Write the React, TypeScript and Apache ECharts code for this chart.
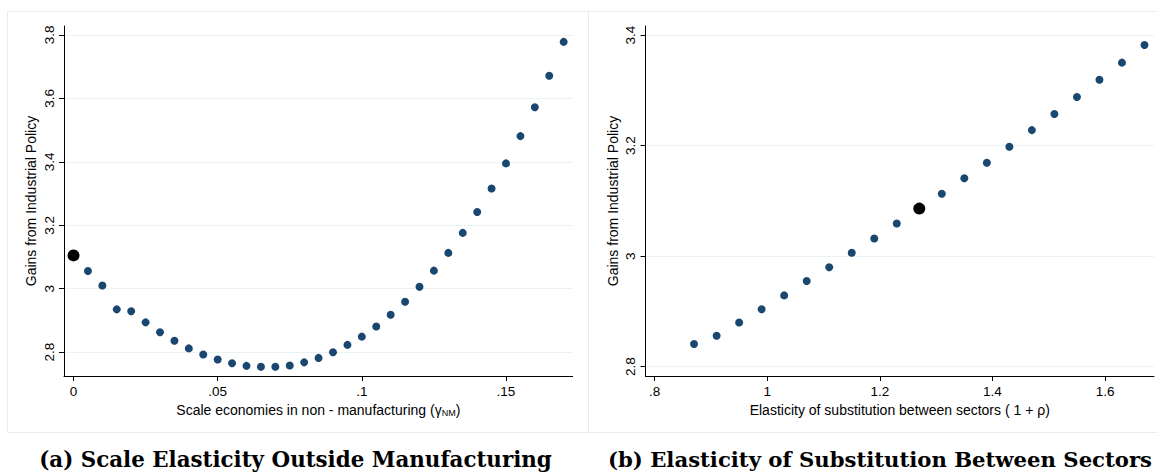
import React, { useEffect, useRef } from 'react';
import * as echarts from 'echarts';

// Panel (a): scale economies in non-manufacturing
const scaleElasticity = [
  0, 0.005, 0.01, 0.015, 0.02, 0.025, 0.03, 0.035, 0.04, 0.045, 0.05, 0.055,
  0.06, 0.065, 0.07, 0.075, 0.08, 0.085, 0.09, 0.095, 0.1, 0.105, 0.11, 0.115,
  0.12, 0.125, 0.13, 0.135, 0.14, 0.145, 0.15, 0.155, 0.16, 0.165, 0.17,
];
const gainsScale = [
  3.105, 3.056, 3.01, 2.935, 2.929, 2.894, 2.863, 2.836, 2.812, 2.793, 2.777,
  2.765, 2.757, 2.754, 2.754, 2.758, 2.768, 2.782, 2.8, 2.823, 2.849, 2.881,
  2.918, 2.959, 3.006, 3.057, 3.113, 3.176, 3.242, 3.316, 3.395, 3.481, 3.572,
  3.671, 3.778,
];
const baselineScaleIndex = 0;

// Panel (b): elasticity of substitution between sectors
const substitutionElasticity = [
  0.87, 0.91, 0.95, 0.99, 1.03, 1.07, 1.11, 1.15, 1.19, 1.23, 1.27, 1.31, 1.35,
  1.39, 1.43, 1.47, 1.51, 1.55, 1.59, 1.63, 1.67,
];
const gainsSubstitution = [
  2.841, 2.856, 2.88, 2.904, 2.929, 2.955, 2.98, 3.006, 3.032, 3.059, 3.086,
  3.113, 3.141, 3.169, 3.198, 3.228, 3.257, 3.288, 3.319, 3.35, 3.382,
];
const baselineSubstIndex = 10;

const xTicksA = [0, 0.05, 0.1, 0.15];
const yTicksA = [2.8, 3, 3.2, 3.4, 3.6, 3.8];
const xTicksB = [0.8, 1, 1.2, 1.4, 1.6];
const yTicksB = [2.8, 3, 3.2, 3.4];

const yName = 'Gains from Industrial Policy';
const xNameA = 'Scale economies in non - manufacturing ({g|γ}{sub|NM})';
const xNameB = 'Elasticity of substitution between sectors ( 1 + ρ)';
const titleA = '(a) Scale Elasticity Outside Manufacturing';
const titleB = '(b) Elasticity of Substitution Between Sectors';

const SANS = '"Liberation Sans", Arial, sans-serif';
const SERIF = '"DejaVu Serif", serif';
const NAVY = '#1a476f';
const GRIDC = '#eaf2f3';

const fmt = (v: number) => {
  const r = Math.round(v * 1000) / 1000;
  if (r === 0) return '0';
  return String(r).replace(/^0\./, '.').replace(/^-0\./, '-.');
};

function makeX(gridIndex: number, min: number, max: number, ticks: number[], name: string) {
  return {
    type: 'value',
    gridIndex,
    min,
    max,
    name,
    nameLocation: 'middle',
    nameGap: 23,
    nameTextStyle: {
      fontFamily: SANS,
      fontSize: 14,
      color: '#000',
      rich: {
        g: { fontFamily: SANS, fontSize: 14, color: '#000' },
        sub: { fontFamily: SANS, fontSize: 9, color: '#000', verticalAlign: 'bottom', padding: [6, 0, 0, 0] },
      },
    },
    axisLine: { show: true, onZero: false, lineStyle: { color: '#000', width: 1 } },
    axisTick: { show: true, length: 5, customValues: ticks, lineStyle: { color: '#000', width: 1 } },
    axisLabel: { customValues: ticks, formatter: fmt, margin: 8, fontSize: 13.5, color: '#000', fontFamily: SANS },
    splitLine: { show: false },
  };
}

function makeY(gridIndex: number, min: number, max: number, ticks: number[]) {
  return {
    type: 'value',
    gridIndex,
    min,
    max,
    name: yName,
    nameLocation: 'middle',
    nameGap: 26,
    nameTextStyle: { fontFamily: SANS, fontSize: 14, color: '#000' },
    axisLine: { show: true, onZero: false, lineStyle: { color: '#000', width: 1 } },
    axisTick: { show: true, length: 5, customValues: ticks, lineStyle: { color: '#000', width: 1 } },
    axisLabel: { customValues: ticks, formatter: fmt, rotate: 90, margin: 8, fontSize: 13.5, color: '#000', fontFamily: SANS },
    splitLine: { show: true, lineStyle: { color: GRIDC, width: 1 } },
  };
}

export default function App() {
  const ref = useRef<HTMLDivElement>(null);
  useEffect(() => {
    if (!ref.current) return;
    const chart = echarts.init(ref.current, undefined, { renderer: 'svg' });
    const ptsA = scaleElasticity.map((x, i) => [x, gainsScale[i]]);
    const ptsB = substitutionElasticity.map((x, i) => [x, gainsSubstitution[i]]);
    chart.setOption({
      animation: false,
      backgroundColor: '#fff',
      grid: [
        { left: 64, top: 26, right: 584.4, bottom: 96, show: false },
        { left: 645.5, top: 26, right: 3, bottom: 96, show: false },
      ],
      xAxis: [
        makeX(0, -0.0033, 0.1731, xTicksA, xNameA),
        makeX(1, 0.7837, 1.6869, xTicksB, xNameB),
      ],
      yAxis: [makeY(0, 2.725, 3.828, yTicksA), makeY(1, 2.7832, 3.4163, yTicksB)],
      series: [
        {
          type: 'scatter', xAxisIndex: 0, yAxisIndex: 0, symbolSize: 8,
          itemStyle: { color: NAVY, opacity: 1 },
          data: ptsA.filter((_, i) => i !== baselineScaleIndex),
        },
        {
          type: 'scatter', xAxisIndex: 0, yAxisIndex: 0, symbolSize: 12,
          itemStyle: { color: '#000', opacity: 1 },
          data: [ptsA[baselineScaleIndex]],
        },
        {
          type: 'scatter', xAxisIndex: 1, yAxisIndex: 1, symbolSize: 8,
          itemStyle: { color: NAVY, opacity: 1 },
          data: ptsB.filter((_, i) => i !== baselineSubstIndex),
        },
        {
          type: 'scatter', xAxisIndex: 1, yAxisIndex: 1, symbolSize: 12,
          itemStyle: { color: '#000', opacity: 1 },
          data: [ptsB[baselineSubstIndex]],
        },
      ],
      graphic: [
        { type: 'rect', silent: true, z: -10, shape: { x: 7.5, y: 11.5, width: 581, height: 421 }, style: { fill: 'none', stroke: '#e6ecec', lineWidth: 1 } },
        { type: 'rect', silent: true, z: -10, shape: { x: 588.5, y: 11.5, width: 580, height: 421 }, style: { fill: 'none', stroke: '#e6ecec', lineWidth: 1 } },
        { type: 'text', x: 295.5, y: 459, style: { text: titleA, fontFamily: SERIF, fontWeight: 'bold', fontSize: 21.4, fill: '#000', align: 'center', verticalAlign: 'middle' } },
        { type: 'text', x: 880, y: 459, style: { text: titleB, fontFamily: SERIF, fontWeight: 'bold', fontSize: 21.2, fill: '#000', align: 'center', verticalAlign: 'middle' } },
      ],
    });
    return () => chart.dispose();
  }, []);
  return <div ref={ref} style={{ position: 'absolute', left: 0, top: 0, width: 1157, height: 472 }} />;
}
